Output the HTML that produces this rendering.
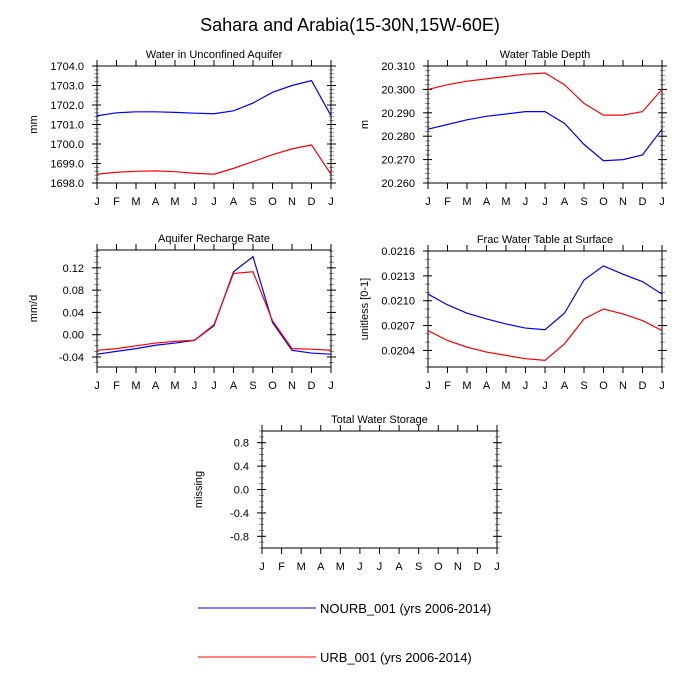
<!DOCTYPE html>
<html><head><meta charset="utf-8"><style>
body{margin:0;background:#fff;}
svg{display:block;font-family:"Liberation Sans",sans-serif;}
</style></head><body>
<svg id="c" width="700" height="700" viewBox="0 0 700 700">
<text x="350" y="31" font-size="18" text-anchor="middle">Sahara and Arabia(15-30N,15W-60E)</text>
</svg>
<script>
const months = ["J","F","M","A","M","J","J","A","S","O","N","D","J"];
const aquiferNourb = [1701.45,1701.6,1701.65,1701.65,1701.62,1701.58,1701.55,1701.7,1702.1,1702.65,1703.0,1703.25,1701.45];
const aquiferUrb = [1698.45,1698.55,1698.6,1698.62,1698.58,1698.5,1698.45,1698.75,1699.1,1699.45,1699.75,1699.95,1698.45];
const aquiferTicks = ["1698.0","1699.0","1700.0","1701.0","1702.0","1703.0","1704.0"];
const depthNourb = [20.283,20.285,20.287,20.2885,20.2895,20.2905,20.2905,20.2855,20.2765,20.2695,20.270,20.272,20.283];
const depthUrb = [20.300,20.302,20.3035,20.3045,20.3055,20.3065,20.307,20.302,20.294,20.289,20.289,20.2905,20.300];
const depthTicks = ["20.260","20.270","20.280","20.290","20.300","20.310"];
const rechargeNourb = [-0.035,-0.03,-0.025,-0.019,-0.015,-0.01,0.016,0.113,0.14,0.022,-0.028,-0.033,-0.035];
const rechargeUrb = [-0.028,-0.025,-0.02,-0.015,-0.012,-0.01,0.018,0.11,0.113,0.025,-0.025,-0.026,-0.028];
const rechargeTicks = ["-0.04","0.00","0.04","0.08","0.12"];
const fracNourb = [0.02108,0.02095,0.02085,0.02078,0.02072,0.02067,0.02065,0.02085,0.02125,0.02142,0.02132,0.02123,0.02108];
const fracUrb = [0.02064,0.02052,0.02044,0.02038,0.02034,0.02030,0.02028,0.02048,0.02078,0.02090,0.02084,0.02076,0.02064];
const fracTicks = ["0.0204","0.0207","0.0210","0.0213","0.0216"];
const storageTicks = ["-0.8","-0.4","0.0","0.4","0.8"];

const NS="http://www.w3.org/2000/svg";
const svg=document.getElementById('c');
function mk(tag,attrs,parent){const e=document.createElementNS(NS,tag);for(const k in attrs)e.setAttribute(k,attrs[k]);(parent||svg).appendChild(e);return e;}

function panel(name,title,ylab,x0,y0,w,h,ymin,ymax,ticks,minorStep,s1,s2){
  const g=mk('g',{});
  
  
  const xs=i=>x0+i*w/12;
  const ys=v=>y0+h-(v-ymin)/(ymax-ymin)*h;
  const t=mk('text',{x:x0+w/2,y:y0-8,'font-size':11,'text-anchor':'middle'},g);t.textContent=title;
  
  
  const yl=mk('text',{x:0,y:0,'font-size':11,'text-anchor':'middle',transform:`translate(${x0-60},${y0+h/2}) rotate(-90)`},g);yl.textContent=ylab;
  
  
  months.forEach((m,i)=>{
    const x=xs(i);
    mk('line',{x1:x,x2:x,y1:y0+h,y2:y0+h+6,stroke:'#000'},g);
    mk('line',{x1:x,x2:x,y1:y0,y2:y0-6,stroke:'#000'},g);
    const tx=mk('text',{x:x,y:y0+h+22,'font-size':11,'text-anchor':'middle'},g);tx.textContent=m;
    
    
  });
  for(let v=Math.ceil(ymin/minorStep-1e-6)*minorStep;v<=ymax+1e-9;v+=minorStep){
    const y=ys(v);
    mk('line',{x1:x0+2,x2:x0-3,y1:y,y2:y,stroke:'#777','stroke-width':0.8},g);
    mk('line',{x1:x0+w-2,x2:x0+w+3,y1:y,y2:y,stroke:'#777','stroke-width':0.8},g);
  }
  ticks.forEach(l=>{
    const y=ys(parseFloat(l));
    mk('line',{x1:x0+4,x2:x0-5,y1:y,y2:y,stroke:'#000'},g);
    mk('line',{x1:x0+w-4,x2:x0+w+5,y1:y,y2:y,stroke:'#000'},g);
    const tx=mk('text',{x:x0-13,y:y+4,'font-size':11,'text-anchor':'end'},g);tx.textContent=l;
    
    
  });
  mk('rect',{x:x0,y:y0,width:w,height:h,fill:'none',stroke:'#000'},g);
  [[s1,'#0000ff','nourb'],[s2,'#ff0000','urb']].forEach(([s,c,n])=>{
    if(!s)return;
    const p=mk('polyline',{points:s.map((v,i)=>xs(i)+','+ys(v)).join(' '),fill:'none',stroke:c,'stroke-width':1.2},g);
    
    
  });
}
panel('aquifer','Water in Unconfined Aquifer','mm',97,66,234,117,1698,1704,aquiferTicks,0.2,aquiferNourb,aquiferUrb);
panel('depth','Water Table Depth','m',428,66,234,117,20.26,20.31,depthTicks,0.002,depthNourb,depthUrb);
panel('recharge','Aquifer Recharge Rate','mm/d',97,250,234,117,-0.058,0.152,rechargeTicks,0.01,rechargeNourb,rechargeUrb);
panel('frac','Frac Water Table at Surface','unitless [0-1]',428,251,234,116,0.0202,0.0216,fracTicks,0.0001,fracNourb,fracUrb);
panel('storage','Total Water Storage','missing',262,431,235,117,-1,1,storageTicks,0.1,null,null);

const legend=[["NOURB_001 (yrs 2006-2014)","#0000ff",608],["URB_001 (yrs 2006-2014)","#ff0000",657]];
legend.forEach(([l,c,y],i)=>{
  const g=mk('g',{});
  
  
  mk('line',{x1:198,x2:316,y1:y,y2:y,stroke:c,'stroke-width':1},g);
  const t=mk('text',{x:320,y:y+5,'font-size':13},g);t.textContent=l;
});
</script>
</body></html>
